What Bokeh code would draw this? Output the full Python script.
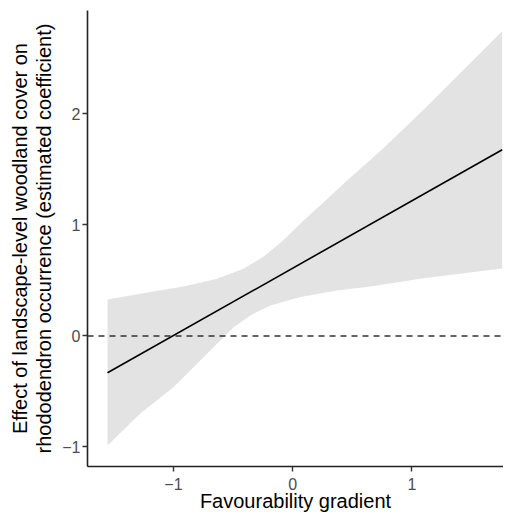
from bokeh.plotting import figure
from bokeh.models import FixedTicker, Span, Range1d
from bokeh.embed import file_html
from bokeh.resources import INLINE

# ---- data ----
fit_x = [-1.553, 1.758]
fit_y = [-0.332, 1.677]

upper_x = [-1.553, -1.195, -0.915, -0.635, -0.411, -0.243, -0.076, 0.092, 0.26, 0.457, 0.75, 1.1, 1.758]
upper_y = [0.329, 0.395, 0.446, 0.515, 0.605, 0.715, 0.865, 1.041, 1.205, 1.40, 1.68, 2.04, 2.746]

lower_x = [-1.553, -1.278, -1.002, -0.775, -0.635, -0.495, -0.355, -0.187, 0.065, 0.373, 0.652, 1.098, 1.758]
lower_y = [-0.986, -0.698, -0.464, -0.221, -0.070, 0.079, 0.185, 0.275, 0.350, 0.410, 0.446, 0.52, 0.608]

x_ticks = [-1, 0, 1]
y_ticks = [-1, 0, 1, 2]
ref_level = 0

x_label = "Favourability gradient"
y_label = "Effect of landscape-level woodland cover on\nrhododendron occurrence (estimated coefficient)"

FONT = "Liberation Sans"

p = figure(width=503, height=516, output_backend="svg", toolbar_location=None,
           x_range=Range1d(-1.721, 1.769), y_range=Range1d(-1.176, 2.932),
           min_border_left=87, min_border_right=0, min_border_top=10, min_border_bottom=50)
p.outline_line_color = None
p.xgrid.visible = False
p.ygrid.visible = False
p.background_fill_color = "white"
p.border_fill_color = "white"

# ribbon
p.patch(upper_x + lower_x[::-1], upper_y + lower_y[::-1],
        fill_color="#e3e3e3", line_color=None)

# reference line
p.add_layout(Span(location=ref_level, dimension="width", line_color="#333333",
                  line_width=1.5, line_dash="6 5"))

# fitted line
p.line(fit_x, fit_y, line_color="black", line_width=1.6)

for ax, ticks in ((p.xaxis, x_ticks), (p.yaxis, y_ticks)):
    ax.ticker = FixedTicker(ticks=ticks)
    ax.axis_line_color = "#222222"
    ax.axis_line_width = 1.6
    ax.major_tick_line_color = "#333333"
    ax.major_tick_line_width = 1.4
    ax.major_tick_out = 5
    ax.major_tick_in = 0
    ax.minor_tick_line_color = None
    ax.major_label_text_font = FONT
    ax.major_label_text_font_size = "16px"
    ax.major_label_text_color = "#4d4d4d"
    ax.axis_label_text_font = FONT
    ax.axis_label_text_font_size = "20px"
    ax.axis_label_text_font_style = "normal"
    ax.axis_label_text_color = "black"

p.xaxis.axis_label = x_label
p.yaxis.axis_label = y_label
p.xaxis.major_label_standoff = 6
p.xaxis.axis_label_standoff = -3
p.yaxis.major_label_standoff = 2
p.yaxis.axis_label_standoff = 4
p.yaxis.axis_label_text_line_height = 1.1

open("out.html", "w").write(file_html(p, INLINE))
